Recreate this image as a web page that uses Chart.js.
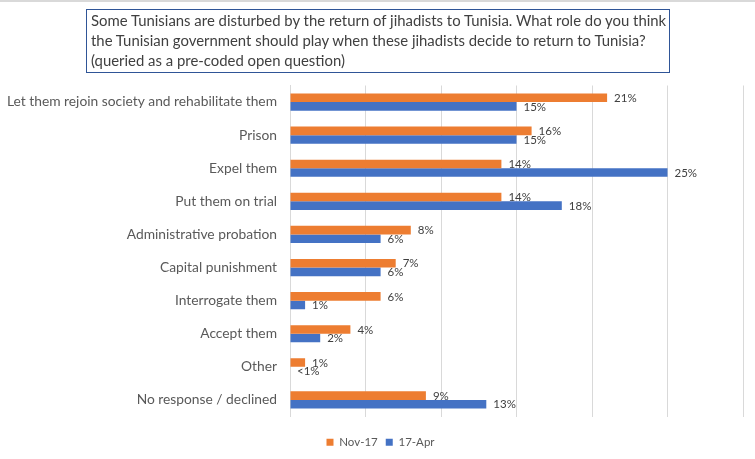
<!DOCTYPE html>
<html>
<head>
<meta charset="utf-8">
<script src="https://cdn.jsdelivr.net/npm/chart.js@4.4.1/dist/chart.umd.min.js"></script>
<style>
  html, body { margin: 0; padding: 0; background: #ffffff; }
  #wrap { position: relative; width: 755px; height: 459px; overflow: hidden; background: #fff; }
  #topline { position: absolute; left: 0; top: 0; width: 755px; height: 2px; background: #d9d9d9; }
  #titlebox {
    position: absolute; left: 86px; top: 9px; width: 578px; height: 61px;
    border: 1px solid #2F5597; box-sizing: content-box;
    font-family: Lato, "Open Sans", sans-serif; font-size: 14.9px; color: #404040;
    padding: 1px 0 0 4px; white-space: nowrap;
  }
  #titlebox div { height: 19.8px; line-height: 19.8px; }
  #chartbox { position: absolute; left: 0; top: 0; width: 755px; height: 459px; }
</style>
</head>
<body>
<div id="wrap">
  <div id="chartbox"><canvas id="c" width="755" height="459"></canvas></div>
  <div id="topline"></div>
  <div id="titlebox">
    <div>Some Tunisians are disturbed by the return of jihadists to Tunisia. What role do you think</div>
    <div>the Tunisian government should play when these jihadists decide to return to Tunisia?</div>
    <div>(queried as a pre-coded open question)</div>
  </div>
</div>
<script>
const categories = [
  "Let them rejoin society and rehabilitate them",
  "Prison",
  "Expel them",
  "Put them on trial",
  "Administrative probation",
  "Capital punishment",
  "Interrogate them",
  "Accept them",
  "Other",
  "No response / declined"
];
const seriesNames = ["Nov-17", "17-Apr"];
const nov17 = [21, 16, 14, 14, 8, 7, 6, 4, 1, 9];
const apr17 = [15, 15, 25, 18, 6, 6, 1, 2, 0, 13];
const nov17Labels = ["21%", "16%", "14%", "14%", "8%", "7%", "6%", "4%", "1%", "9%"];
const apr17Labels = ["15%", "15%", "25%", "18%", "6%", "6%", "1%", "2%", "<1%", "13%"];

const valueLabels = {
  id: 'valueLabels',
  afterDatasetsDraw(chart) {
    const ctx = chart.ctx;
    const labelSets = [nov17Labels, apr17Labels];
    ctx.save();
    ctx.font = '11.5px Lato, "Open Sans", sans-serif';
    ctx.fillStyle = '#404040';
    ctx.textBaseline = 'middle';
    ctx.textAlign = 'left';
    chart.data.datasets.forEach((ds, di) => {
      const meta = chart.getDatasetMeta(di);
      meta.data.forEach((el, i) => {
        ctx.fillText(labelSets[di][i], el.x + 7, el.y + 0.5);
      });
    });
    ctx.restore();
  }
};

const legendShift = {
  id: 'legendShift',
  afterLayout(chart) {
    if (chart.legend) {
      chart.legend.left += 9;
      chart.legend.right += 9;
    }
  }
};

new Chart(document.getElementById('c'), {
  type: 'bar',
  data: {
    labels: categories,
    datasets: [
      { label: seriesNames[0], data: nov17, backgroundColor: '#ED7D31', borderWidth: 0,
        categoryPercentage: 0.52, barPercentage: 1.0 },
      { label: seriesNames[1], data: apr17, backgroundColor: '#4472C4', borderWidth: 0,
        categoryPercentage: 0.52, barPercentage: 1.0 }
    ]
  },
  options: {
    indexAxis: 'y',
    responsive: false,
    animation: false,
    devicePixelRatio: 1,
    layout: { padding: { top: 85.5, right: 12, bottom: 1, left: 0 } },
    scales: {
      x: {
        min: 0, max: 30,
        ticks: { display: false, stepSize: 5 },
        grid: { color: '#d9d9d9', drawTicks: false, lineWidth: 1 },
        border: { display: false },
        afterFit(scale) { scale.height = 12; }
      },
      y: {
        ticks: {
          color: '#595959',
          font: { family: 'Lato, "Open Sans", sans-serif', size: 13.8 },
          padding: 13
        },
        grid: { display: false, drawTicks: false },
        border: { display: true, color: '#d9d9d9', width: 1 },
        afterFit(scale) { scale.width = 290; }
      }
    },
    plugins: {
      legend: {
        position: 'bottom',
        labels: {
          color: '#595959',
          font: { family: 'Lato, "Open Sans", sans-serif', size: 11.5 },
          boxWidth: 7, boxHeight: 7, padding: 8
        }
      },
      tooltip: { enabled: false },
      title: { display: false }
    }
  },
  plugins: [valueLabels, legendShift]
});
</script>
</body>
</html>
